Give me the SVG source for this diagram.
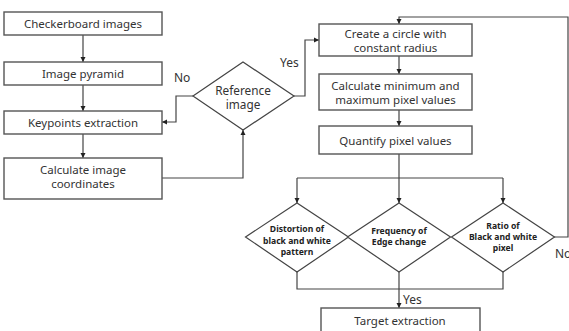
<svg xmlns="http://www.w3.org/2000/svg" width="569" height="331" viewBox="0 0 569 331">
<style>
.box{fill:#fff;stroke:#555;stroke-width:1.4}
.dia{fill:#fff;stroke:#444;stroke-width:1.2}
.ln{fill:none;stroke:#444;stroke-width:1.2}
.t{font-family:"Noto Sans","Open Sans",sans-serif;font-size:11.5px;fill:#333;text-anchor:middle}
.lb{font-family:"Noto Sans","Open Sans",sans-serif;font-size:12px;fill:#333}
.b{font-family:"Noto Sans","Open Sans",sans-serif;font-size:8.6px;font-weight:bold;fill:#222;text-anchor:middle}
</style>
<defs>
<marker id="ar" markerWidth="6" markerHeight="6" refX="5" refY="3" orient="auto" markerUnits="userSpaceOnUse">
<path d="M0,0.5 L5,3 L0,5.5 Z" fill="#222"/>
</marker>
</defs>
<rect width="569" height="331" fill="#fff"/>
<g id="connectors">
<path class="ln" d="M83,35 V62" marker-end="url(#ar)"/>
<path class="ln" d="M83,85 V111" marker-end="url(#ar)"/>
<path class="ln" d="M83,134 V158" marker-end="url(#ar)"/>
<path class="ln" d="M193,96 H176 V122 H162" marker-end="url(#ar)"/>
<path class="ln" d="M162,178 H243 V130" marker-end="url(#ar)"/>
<path class="ln" d="M294,96 H305 V40 H319" marker-end="url(#ar)"/>
<path class="ln" d="M399,56 V74" marker-end="url(#ar)"/>
<path class="ln" d="M399,110 V126" marker-end="url(#ar)"/>
<path class="ln" d="M399,154 V203" marker-end="url(#ar)"/>
<path class="ln" d="M297,178 H503"/>
<path class="ln" d="M297,178 V203" marker-end="url(#ar)"/>
<path class="ln" d="M503,178 V203" marker-end="url(#ar)"/>
<path class="ln" d="M554,237 H568 V17 H399 V24" marker-end="url(#ar)"/>
<path class="ln" d="M297,272 V289 H503 V272"/>
<path class="ln" d="M399,272 V308" marker-end="url(#ar)"/>
<text class="lb" x="174" y="82">No</text>
<text class="lb" x="280" y="67">Yes</text>
<text class="lb" x="403" y="304">Yes</text>
<text class="lb" x="555" y="258">No</text>
</g>
<g id="checkerboard">
<rect class="box" x="4" y="12" width="158" height="23"/>
<text class="t" x="83" y="27.5">Checkerboard images</text>
</g>
<g id="pyramid">
<rect class="box" x="4" y="62" width="158" height="23"/>
<text class="t" x="83" y="77.5">Image pyramid</text>
</g>
<g id="keypoints">
<rect class="box" x="4" y="111" width="158" height="23"/>
<text class="t" x="83" y="126.5">Keypoints extraction</text>
</g>
<g id="imagecoords">
<rect class="box" x="4" y="158" width="158" height="41"/>
<text class="t" x="83" y="174">Calculate image</text>
<text class="t" x="83" y="188">coordinates</text>
</g>
<g id="reference">
<polygon class="dia" points="193,96 243,62 294,96 243,130"/>
<text class="t" x="243" y="95" style="font-size:11.8px">Reference</text>
<text class="t" x="243" y="109" style="font-size:11.8px">image</text>
</g>
<g id="circle">
<rect class="box" x="319" y="24" width="153" height="32"/>
<text class="t" x="395.5" y="38">Create a circle with</text>
<text class="t" x="395.5" y="51.5">constant radius</text>
</g>
<g id="minmax">
<rect class="box" x="319" y="74" width="153" height="36"/>
<text class="t" x="395.5" y="89.5">Calculate minimum and</text>
<text class="t" x="395.5" y="104">maximum pixel values</text>
</g>
<g id="quantify">
<rect class="box" x="319" y="126" width="153" height="28"/>
<text class="t" x="395.5" y="144.5">Quantify pixel values</text>
</g>
<g id="distortion">
<polygon class="dia" points="245.5,237 297,203 348.5,237 297,272"/>
<text class="b" x="297" y="232">Distortion of</text>
<text class="b" x="297" y="244">black and white</text>
<text class="b" x="297" y="255">pattern</text>
</g>
<g id="frequency">
<polygon class="dia" points="347.5,237 399,203 450.5,237 399,272"/>
<text class="b" x="399" y="234">Frequency of</text>
<text class="b" x="399" y="245">Edge change</text>
</g>
<g id="ratio">
<polygon class="dia" points="451.5,237 503,203 554.5,237 503,272"/>
<text class="b" x="503" y="228.5">Ratio of</text>
<text class="b" x="503" y="240">Black and white</text>
<text class="b" x="503" y="251">pixel</text>
</g>
<g id="target">
<rect class="box" x="321" y="308" width="159" height="30"/>
<text class="t" x="400" y="324.5">Target extraction</text>
</g>
</svg>
